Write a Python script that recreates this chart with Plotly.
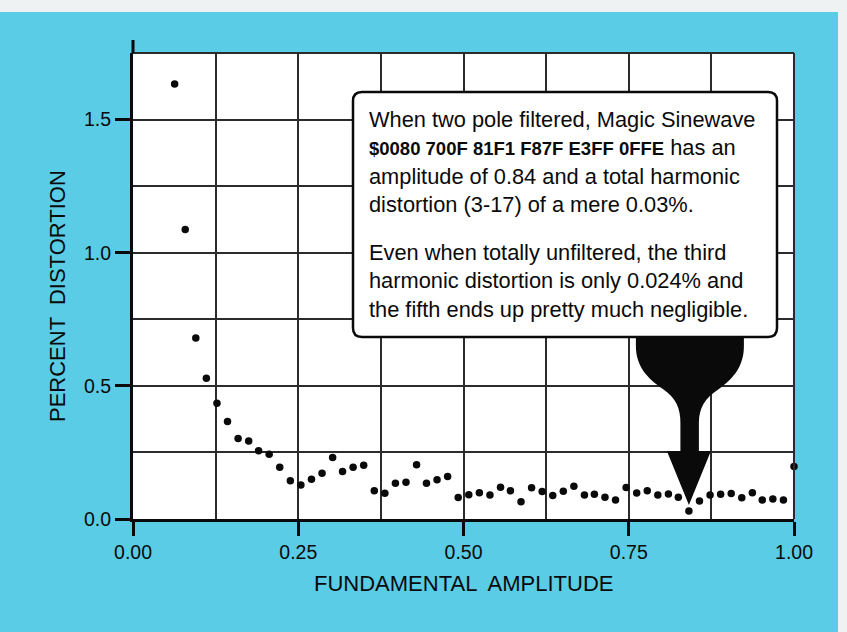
import plotly.graph_objects as go

# Fundamental amplitude of each magic sinewave and its percent distortion
amplitude = [
    0.063, 0.079, 0.095, 0.111, 0.127, 0.143, 0.159, 0.175, 0.190, 0.206,
    0.222, 0.238, 0.254, 0.270, 0.286, 0.302, 0.317, 0.333, 0.349, 0.365,
    0.381, 0.397, 0.413, 0.429, 0.444, 0.460, 0.476, 0.492, 0.508, 0.524,
    0.540, 0.556, 0.571, 0.587, 0.603, 0.619, 0.635, 0.651, 0.667, 0.683,
    0.698, 0.714, 0.730, 0.746, 0.762, 0.778, 0.794, 0.810, 0.825, 0.841,
    0.857, 0.873, 0.889, 0.905, 0.921, 0.937, 0.952, 0.968, 0.984, 1.000,
]
distortion = [
    1.634, 1.087, 0.680, 0.529, 0.435, 0.366, 0.302, 0.293, 0.256, 0.243,
    0.194, 0.144, 0.128, 0.149, 0.172, 0.231, 0.178, 0.194, 0.202, 0.106,
    0.097, 0.134, 0.138, 0.204, 0.134, 0.147, 0.160, 0.081, 0.091, 0.099,
    0.090, 0.119, 0.106, 0.065, 0.117, 0.103, 0.088, 0.104, 0.123, 0.090,
    0.093, 0.082, 0.071, 0.118, 0.098, 0.106, 0.090, 0.094, 0.082, 0.030,
    0.068, 0.090, 0.093, 0.096, 0.080, 0.099, 0.071, 0.075, 0.071, 0.197,
]

x_ticks = [0.0, 0.25, 0.5, 0.75, 1.0]
x_tick_labels = ["0.00", "0.25", "0.50", "0.75", "1.00"]
y_ticks = [0.0, 0.5, 1.0, 1.5]
y_tick_labels = ["0.0", "0.5", "1.0", "1.5"]

# The featured waveform called out in the note
featured_amplitude = 0.84
featured_thd = 0.03
featured_code = "$0080 700F 81F1 F87F E3FF 0FFE"
third_harmonic = 0.024

CYAN = "#5acce5"
INK = "#0a0a0a"
GRID = "#2b2b2b"
FONT = "Liberation Sans, Arial, sans-serif"

W, H = 847, 632
M_L, M_R, M_T, M_B = 133, 53, 53, 113

fig = go.Figure()
fig.add_trace(go.Scatter(
    x=amplitude, y=distortion, mode="markers",
    marker=dict(size=7.5, color=INK, line=dict(width=0)),
    cliponaxis=False, showlegend=False, hoverinfo="x+y",
))

# index of the plotted point closest to the featured amplitude
idx = min(range(len(amplitude)), key=lambda i: abs(amplitude[i] - featured_amplitude))
ax_x, ax_y = amplitude[idx], distortion[idx]

shapes = []
# pale strips along the top and right edges of the page
shapes.append(dict(type="rect", xref="paper", yref="paper", layer="below",
                   xsizemode="pixel", ysizemode="pixel", xanchor=0, yanchor=0,
                   x0=-M_L, x1=W - M_L, y0=H - M_B - 12, y1=H - M_B + 2,
                   fillcolor="#eef2f2", line=dict(width=0)))
shapes.append(dict(type="rect", xref="paper", yref="paper", layer="below",
                   xsizemode="pixel", ysizemode="pixel", xanchor=0, yanchor=0,
                   x0=838 - M_L, x1=W - M_L + 2, y0=-M_B - 2, y1=H - M_B + 2,
                   fillcolor="#eef2f2", line=dict(width=0)))
# top and right frame lines
shapes.append(dict(type="line", xref="paper", yref="paper", x0=0, x1=1, y0=1, y1=1,
                   line=dict(color=GRID, width=2)))
shapes.append(dict(type="line", xref="paper", yref="paper", x0=1, x1=1, y0=0, y1=1,
                   line=dict(color=GRID, width=2)))
# the y axis line runs a little past the top of the frame
shapes.append(dict(type="line", xref="paper", yref="paper", x0=0, x1=0,
                   ysizemode="pixel", yanchor=1, y0=0, y1=13,
                   line=dict(color=INK, width=3)))

# goblet-shaped pointer whose tip rests on the featured point
arrow_path = (
    "M 0,6 L -22,60 L -8.5,60 L -8.5,88 "
    "C -8.5,103 -13,113 -26,122 "
    "C -42,133 -53,145 -53,165 L -53,186 L 55,186 L 55,165 "
    "C 55,145 45,133 30,122 "
    "C 16,113 10,103 10,88 L 10,60 L 22,60 Z"
)
shapes.append(dict(type="path", xref="x", yref="y",
                   xsizemode="pixel", ysizemode="pixel",
                   xanchor=ax_x, yanchor=ax_y, path=arrow_path,
                   fillcolor=INK, line=dict(width=0), layer="above"))

# rounded note box (pixel offsets from the plot's lower-left corner)
bx0, bx1, by0, by1, r = 220, 644, 182, 427, 9
box_path = (
    f"M {bx0 + r},{by0} L {bx1 - r},{by0} Q {bx1},{by0} {bx1},{by0 + r} "
    f"L {bx1},{by1 - r} Q {bx1},{by1} {bx1 - r},{by1} "
    f"L {bx0 + r},{by1} Q {bx0},{by1} {bx0},{by1 - r} "
    f"L {bx0},{by0 + r} Q {bx0},{by0} {bx0 + r},{by0} Z"
)
shapes.append(dict(type="path", xref="paper", yref="paper",
                   xsizemode="pixel", ysizemode="pixel", xanchor=0, yanchor=0,
                   path=box_path, fillcolor="white",
                   line=dict(color=INK, width=2.5), layer="above"))

note1 = (
    "When two pole filtered, Magic Sinewave<br>"
    f"<b><span style=\"font-size:18.5px\">{featured_code}</span></b> has an<br>"
    f"amplitude of {featured_amplitude:.2f} and a total harmonic<br>"
    f"distortion (3-17) of a mere {featured_thd:.2f}%."
)
note2 = (
    "Even when totally unfiltered, the third<br>"
    f"harmonic distortion is only {third_harmonic:.3f}% and<br>"
    "the fifth ends up pretty much negligible."
)

plot_w = W - M_L - M_R
plot_h = H - M_T - M_B
text_x = (367 - M_L) / plot_w

annotations = [
    dict(text=note1, xref="paper", yref="paper", x=text_x, y=(519 - 162) / plot_h,
         xanchor="left", yanchor="middle", align="left", showarrow=False,
         font=dict(family=FONT, size=21.8, color=INK)),
    dict(text=note2, xref="paper", yref="paper", x=text_x, y=(519 - 281) / plot_h,
         xanchor="left", yanchor="middle", align="left", showarrow=False,
         font=dict(family=FONT, size=21.8, color=INK)),
    dict(text="PERCENT  DISTORTION", xref="paper", yref="paper", x=0, xshift=-76,
         y=(519 - 296) / plot_h, textangle=-90, showarrow=False,
         xanchor="center", yanchor="middle",
         font=dict(family=FONT, size=22, color=INK)),
    dict(text="FUNDAMENTAL  AMPLITUDE", xref="paper", yref="paper", x=0.5, y=0,
         yshift=-64, showarrow=False, xanchor="center", yanchor="middle",
         font=dict(family=FONT, size=22, color=INK)),
]

fig.update_layout(
    width=W, height=H,
    margin=dict(l=M_L, r=M_R, t=M_T, b=M_B, pad=0),
    paper_bgcolor=CYAN, plot_bgcolor="white",
    shapes=shapes, annotations=annotations,
    font=dict(family=FONT, color=INK),
    xaxis=dict(
        range=[0, 1], tickmode="array", tickvals=x_ticks, ticktext=x_tick_labels,
        ticks="outside", ticklen=14, tickwidth=2.5, tickcolor=INK,
        showline=True, linecolor=INK, linewidth=3, zeroline=False,
        showgrid=True, gridcolor=GRID, gridwidth=1.5,
        minor=dict(dtick=0.125, tick0=0, showgrid=True, gridcolor=GRID, gridwidth=1.5),
        tickfont=dict(family=FONT, size=19.5, color=INK),
        fixedrange=True,
    ),
    yaxis=dict(
        range=[0, 1.75], tickmode="array", tickvals=y_ticks, ticktext=y_tick_labels,
        ticks="outside", ticklen=15, tickwidth=2.5, tickcolor=INK,
        showline=True, linecolor=INK, linewidth=3, zeroline=False,
        showgrid=True, gridcolor=GRID, gridwidth=1.5,
        minor=dict(dtick=0.25, tick0=0, showgrid=True, gridcolor=GRID, gridwidth=1.5),
        tickfont=dict(family=FONT, size=19.5, color=INK),
        fixedrange=True,
    ),
)

fig.write_html("out.html")
